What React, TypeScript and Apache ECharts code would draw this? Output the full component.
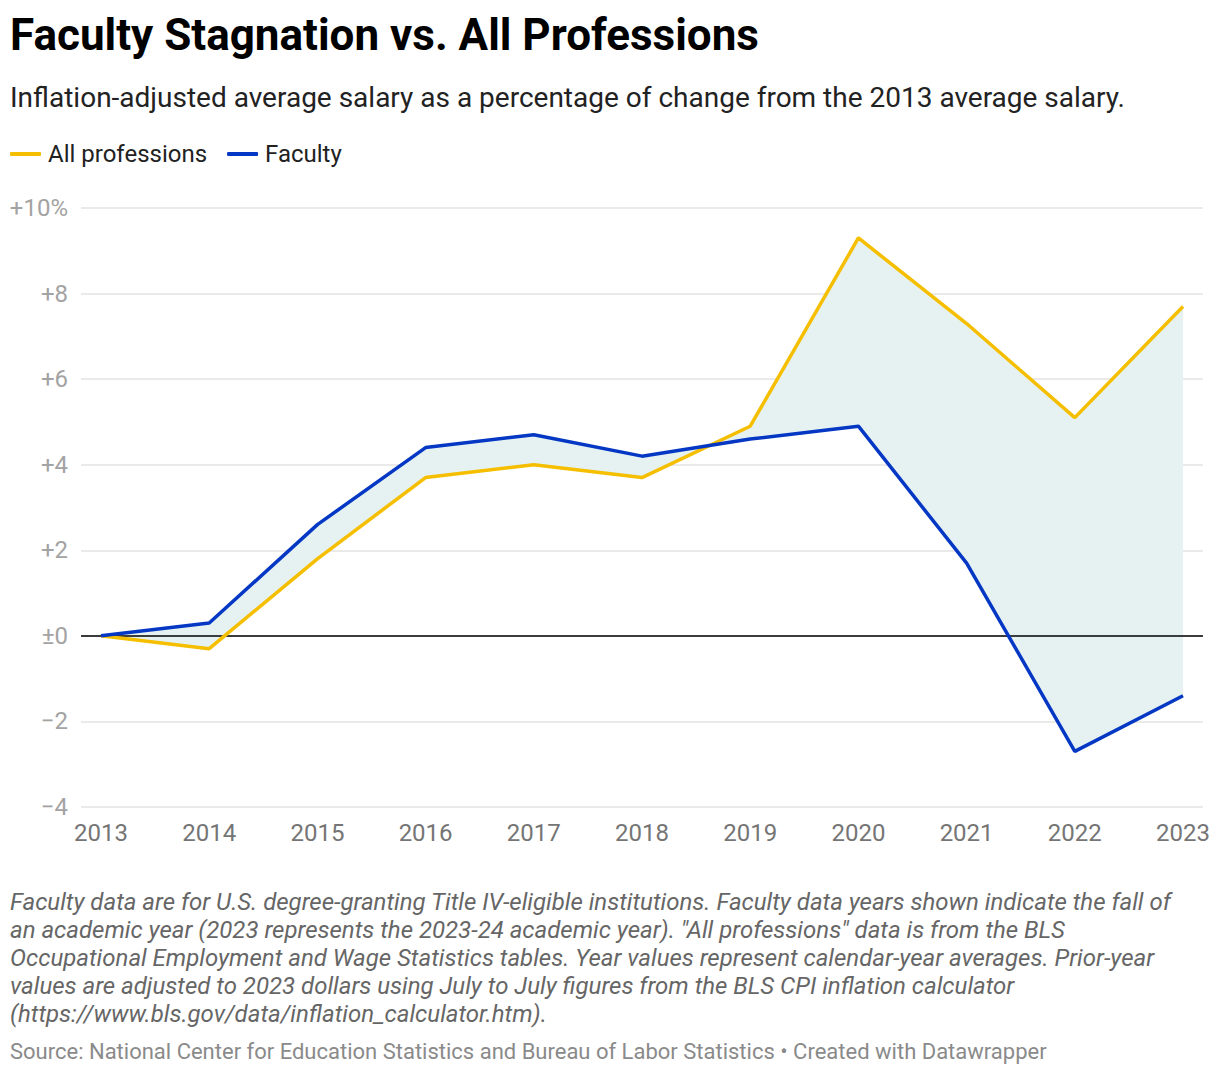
import React, { useEffect, useRef } from "react";
import * as echarts from "echarts";

const years = [2013, 2014, 2015, 2016, 2017, 2018, 2019, 2020, 2021, 2022, 2023];
const allProfessions = [0, -0.3, 1.8, 3.7, 4.0, 3.7, 4.9, 9.3, 7.3, 5.1, 7.7];
const faculty = [0, 0.3, 2.6, 4.4, 4.7, 4.2, 4.6, 4.9, 1.7, -2.7, -1.4];
const yTicks = [-4, -2, 0, 2, 4, 6, 8, 10];

const titleText = "Faculty Stagnation vs. All Professions";
const subtitleText =
  "Inflation-adjusted average salary as a percentage of change from the 2013 average salary.";
const noteLines = [
  "Faculty data are for U.S. degree-granting Title IV-eligible institutions. Faculty data years shown indicate the fall of",
  'an academic year (2023 represents the 2023-24 academic year). "All professions" data is from the BLS',
  "Occupational Employment and Wage Statistics tables. Year values represent calendar-year averages. Prior-year",
  "values are adjusted to 2023 dollars using July to July figures from the BLS CPI inflation calculator",
  "(https://www.bls.gov/data/inflation_calculator.htm).",
];
const sourceText =
  "Source: National Center for Education Statistics and Bureau of Labor Statistics • Created with Datawrapper";

const YELLOW = "#f5bf00";
const BLUE = "#0438c4";
const FILL = "#e6f2f2";
const FONT = "Roboto, 'Noto Sans', sans-serif";

function fmtY(v: number): string {
  if (v === 0) return "±0";
  if (v > 0) return "+" + v + (v === 10 ? "%" : "");
  return "\u2212" + Math.abs(v);
}

export default function App() {
  const ref = useRef<HTMLDivElement>(null);
  useEffect(() => {
    if (!ref.current) return;
    const chart = echarts.init(ref.current, undefined, { renderer: "svg" });
    const allData = years.map((y, i) => [y, allProfessions[i]]);
    const facData = years.map((y, i) => [y, faculty[i]]);

    const graphics: any[] = [
      {
        type: "text",
        left: 10,
        top: 13,
        style: { text: titleText, font: `bold 44px ${FONT}`, fill: "#000" },
      },
      {
        type: "text",
        left: 10,
        top: 83,
        style: { text: subtitleText, font: `28px ${FONT}`, fill: "#222" },
      },
    ];
    noteLines.forEach((t, i) => {
      graphics.push({
        type: "text",
        left: 10,
        top: 890 + i * 28,
        style: { text: t, font: `italic 24px ${FONT}`, fill: "#666" },
      });
    });
    graphics.push({
      type: "text",
      left: 10,
      top: 1040,
      style: { text: sourceText, font: `22px ${FONT}`, fill: "#8a8a8a" },
    });

    chart.setOption({
      animation: false,
      textStyle: { fontFamily: FONT },
      grid: { left: 81, right: 17, top: 208, bottom: 267 },
      legend: {
        left: 10,
        top: 142,
        padding: 0,
        icon: "roundRect",
        itemWidth: 31,
        itemHeight: 4,
        itemGap: 20,
        data: ["All professions", "Faculty"],
        textStyle: { fontSize: 24, color: "#222", fontFamily: FONT, padding: [0, 0, 0, 2] },
        selectedMode: false,
      },
      xAxis: {
        type: "value",
        min: 2013 - 20 / 108.2,
        max: 2023 + 20 / 108.2,
        axisLine: { show: false },
        axisTick: { show: false },
        splitLine: { show: false },
        axisLabel: {
          customValues: years,
          formatter: (v: number) => String(Math.round(v)),
          fontSize: 24,
          color: "#757575",
          margin: 14,
          fontFamily: FONT,
        },
      },
      yAxis: {
        type: "value",
        min: -4,
        max: 10,
        interval: 2,
        axisLine: { show: false },
        axisTick: { show: false },
        splitLine: { lineStyle: { color: "#e3e3e3", width: 1.5 } },
        axisLabel: {
          formatter: (v: number) => fmtY(v),
          fontSize: 24,
          color: "#a3a3a3",
          margin: 13,
          fontFamily: FONT,
          customValues: yTicks,
        },
      },
      graphic: graphics,
      series: [
        {
          type: "custom",
          name: "gap",
          silent: true,
          z: 1,
          data: [[years[0], 0]],
          renderItem: (_params: any, api: any) => {
            const pts: number[][] = [];
            years.forEach((y, i) => pts.push(api.coord([y, allProfessions[i]])));
            for (let i = years.length - 1; i >= 0; i--) pts.push(api.coord([years[i], faculty[i]]));
            return { type: "polygon", shape: { points: pts }, style: { fill: FILL } };
          },
        },
        {
          type: "line",
          name: "All professions",
          data: allData,
          symbol: "none",
          z: 3,
          color: YELLOW,
          lineStyle: { color: YELLOW, width: 3.5 },
          markLine: {
            silent: true,
            symbol: ["none", "none"],
            label: { show: false },
            lineStyle: { color: "#000", width: 1.5, type: "solid" },
            data: [{ yAxis: 0 }],
            z: 2,
          },
        },
        {
          type: "line",
          name: "Faculty",
          data: facData,
          symbol: "none",
          z: 4,
          color: BLUE,
          lineStyle: { color: BLUE, width: 3.5 },
        },
      ],
    });
    return () => chart.dispose();
  }, []);
  return (
    <div
      ref={ref}
      style={{ position: "absolute", left: 0, top: 0, width: 1220, height: 1074, background: "#fff" }}
    />
  );
}
